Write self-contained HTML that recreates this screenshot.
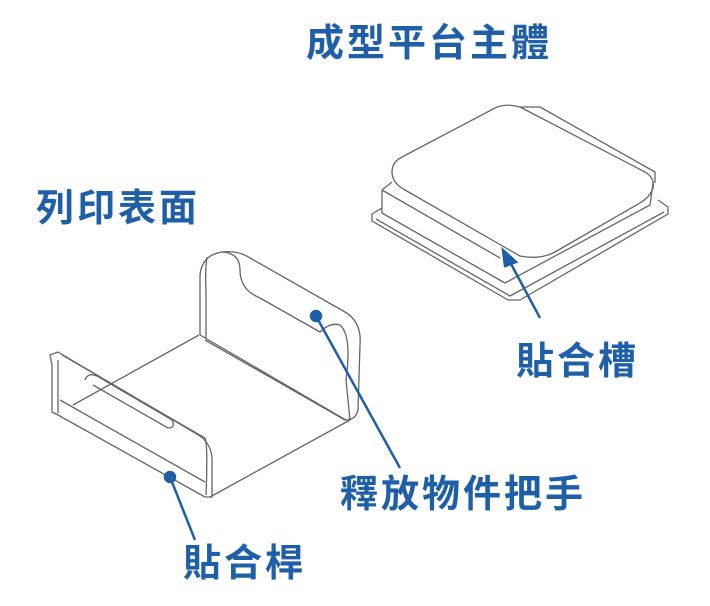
<!DOCTYPE html><html><head><style>
body{margin:0;background:#fff;width:710px;height:606px;overflow:hidden;position:relative;font-family:"Liberation Sans","Noto Sans CJK TC",sans-serif}
.t{position:absolute;color:#1f5fa8;font-weight:bold;font-size:38px;letter-spacing:3px;line-height:1}
</style></head><body>
<svg width="710" height="606" style="position:absolute;left:0;top:0" fill="none" stroke="#666" stroke-width="1.3" stroke-linejoin="round">
<!-- platform base plate -->
<path d="M382,208 L372,214 L372,221 L508,300 L520,300 L668,214 L668,207 L658,200"/>
<path d="M376,219 L510,296 L664,212"/>
<!-- platform walls -->
<path d="M382,190 L382,213 L505,283 L650,205 L653,183"/>
<path d="M382,190 L392,182"/>
<path d="M382,190 L500,258"/>
<!-- top face -->
<path d="M392,172 Q392,162 402,157 L495,108 Q505,103 520,107 L645,172 Q655,178 653,188 Q650,197 640,203 L555,252 Q540,260 520,256 L405,190 Q392,183 392,172 Z"/>
<path d="M520,107 L540,107 L655,172 L655,183"/>
<!-- printing surface: floor -->
<path d="M199,335 L73,405 M210,497 L350,420"/>
<!-- back wall -->
<path d="M200,335 L200,275 Q202,255 222,252 Q240,253 240,270 Q240,290 260,298 L320,332 Q330,322 340,325 Q352,335 346,380 L350,420"/>
<path d="M222,252 Q238,250 250,258 L345,312 Q362,322 360,345 L358,410 Q356,420 345,420 L205,340"/>
<path d="M207,257 Q205,270 206,290 L206,338"/>
<path d="M200,335 L346,420"/>
<!-- front wall -->
<path d="M50,355 L58,352 L200,436 Q212,445 212,460 L212,497 L205,497 L58,415 L52,412 L52,365 Z"/>
<path d="M62,355 L205,438 Q208,445 206,495"/>
<path d="M58,413 L58,360 M60,400 L205,482"/>
<path d="M85,380 Q88,372 97,376 L172,420 Q176,428 168,428 L93,385"/>
</svg>
<svg width="710" height="606" style="position:absolute;left:0;top:0">
<g stroke="#1f5fa8" stroke-width="2.5" fill="#1f5fa8">
<line x1="540" y1="318" x2="510" y2="262"/>
<polygon points="503,250 516,262 505,266"/>
<line x1="316" y1="316" x2="400" y2="468"/><circle cx="316" cy="316" r="5"/>
<line x1="170" y1="477" x2="195" y2="540"/><circle cx="170" cy="477" r="5"/>
</g></svg>
<div class="t" style="left:306px;top:25px">成型平台主體</div>
<div class="t" style="left:36px;top:190px">列印表面</div>
<div class="t" style="left:516px;top:343px">貼合槽</div>
<div class="t" style="left:340px;top:476px">釋放物件把手</div>
<div class="t" style="left:183px;top:545px">貼合桿</div>
</body></html>
